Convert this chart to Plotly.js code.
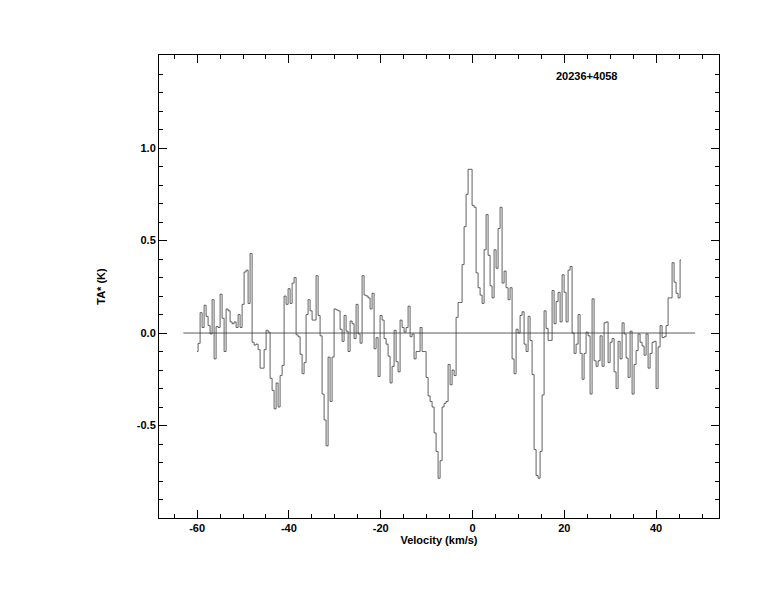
<!DOCTYPE html>
<html>
<head>
<meta charset="utf-8">
<script src="https://cdn.plot.ly/plotly-3.0.1.min.js"></script>
<style>
  html, body { margin: 0; padding: 0; background: #ffffff; }
  #chart { width: 774px; height: 612px; }
</style>
</head>
<body>
<div id="chart"></div>
<script>
// Spectrum channels: first channel velocity and channel width (km/s)
const firstVelocity = -60.0;
const channelWidth = 0.4357;

// Antenna temperature TA* (K) per channel
const antennaTemp = [
  -0.10, -0.056, 0.11, 0.03, 0.15, 0.09, 0.04, -0.005, 0.18, -0.14,
  0.035, 0.03, 0.21, 0.08, -0.10, 0.13, 0.12, 0.06, 0.05, 0.06,
  0.03, 0.10, 0.03, 0.155, 0.33, 0.34, 0.16, 0.43, -0.05, -0.065,
  -0.06, -0.09, -0.19, -0.19, -0.09, 0.015, 0.005, -0.245, -0.31, -0.41,
  -0.27, -0.40, -0.23, -0.175, 0.20, 0.155, 0.24, 0.16, 0.27, 0.30,
  -0.01, -0.02, -0.115, -0.22, -0.16, 0.10, 0.18, 0.12, 0.07, 0.07,
  0.31, 0.095, -0.015, -0.33, -0.47, -0.61, -0.13, -0.37, -0.13, 0.13,
  0.125, 0.12, 0.02, -0.045, 0.095, 0.01, -0.10, 0.065, 0.05, -0.03,
  0.155, -0.005, -0.055, 0.31, 0.205, 0.20, 0.19, 0.13, 0.215, -0.085,
  -0.025, -0.235, 0.095, 0.07, -0.03, -0.06, -0.125, -0.27, -0.18, 0.015,
  -0.155, -0.21, 0.07, 0.03, 0.005, 0.03, 0.145, -0.02, -0.005, -0.14,
  -0.10, -0.10, 0.03, -0.10, -0.10, -0.24, -0.34, -0.37, -0.40, -0.54,
  -0.64, -0.785, -0.69, -0.40, -0.38, -0.37, -0.17, -0.28, -0.20, -0.23,
  0.085, 0.165, 0.165, 0.37, 0.575, 0.75, 0.885, 0.885, 0.69, 0.68,
  0.325, 0.245, 0.205, 0.16, 0.45, 0.64, 0.42, 0.255, 0.19, 0.45,
  0.35, 0.565, 0.68, 0.27, 0.335, 0.245, 0.18, 0.245, -0.14, -0.22,
  0.02, 0.00, 0.095, 0.115, -0.06, -0.10, 0.09, -0.04, -0.225, -0.63,
  -0.77, -0.785, -0.64, -0.335, 0.12, 0.025, -0.04, -0.04, 0.23, 0.05,
  0.17, 0.22, 0.06, 0.315, 0.22, 0.06, 0.34, 0.36, 0.00, -0.11,
  -0.06, 0.10, -0.11, -0.25, -0.11, 0.005, -0.015, -0.33, 0.185, -0.15,
  -0.18, -0.15, -0.015, -0.18, 0.055, 0.06, -0.16, -0.05, -0.03, -0.21,
  -0.30, -0.045, -0.14, 0.055, -0.005, -0.135, -0.24, 0.01, -0.33, -0.17,
  -0.095, -0.005, -0.05, -0.07, -0.12, -0.005, -0.19, -0.11, -0.05, -0.045,
  -0.30, -0.075, 0.04, -0.025, -0.02, 0.04, 0.19, 0.19, 0.38, 0.275,
  0.215, 0.19, 0.395
];

// Baseline (zero level) extent
const baselineVelocity = [-63.0, 48.5];
const baselineTemp = [0, 0];

// Tick values / labels
const xTickVals = [-60, -40, -20, 0, 20, 40];
const xTickText = ['-60', '-40', '-20', '0', '20', '40'];
const yTickVals = [-0.5, 0.0, 0.5, 1.0];
const yTickText = ['-0.5', '0.0', '0.5', '1.0'];

const sourceName = '20236+4058';
const xTitle = 'Velocity (km/s)';
const yTitle = 'TA* (K)';

const boldFont = { family: 'Liberation Sans, Arial, Helvetica, sans-serif', size: 11, color: '#000000', weight: 'bold' };

const traces = [
  {
    type: 'scatter', mode: 'lines',
    x: baselineVelocity, y: baselineTemp,
    line: { color: '#333333', width: 0.8 },
    hoverinfo: 'skip', showlegend: false
  },
  {
    type: 'scatter', mode: 'lines',
    x0: firstVelocity, dx: channelWidth, y: antennaTemp,
    line: { color: '#3a3a3a', width: 0.8, shape: 'hvh' },
    showlegend: false
  }
];

const axisCommon = {
  showline: true, linecolor: '#000000', linewidth: 1, mirror: 'ticks',
  ticks: 'inside', ticklen: 8, tickwidth: 1, tickcolor: '#000000',
  showgrid: false, zeroline: false,
  tickfont: boldFont
};

const layout = {
  width: 774, height: 612,
  margin: { l: 159, r: 55, t: 55, b: 94, pad: 0 },
  paper_bgcolor: '#ffffff', plot_bgcolor: '#ffffff',
  showlegend: false,
  xaxis: Object.assign({}, axisCommon, {
    range: [-68.3, 53.7],
    tickmode: 'array', tickvals: xTickVals, ticktext: xTickText,
    minor: { dtick: 5, tick0: 0, ticklen: 4, tickcolor: '#000000', ticks: 'inside', showgrid: false },
    title: { text: xTitle, font: boldFont, standoff: 0 }
  }),
  yaxis: Object.assign({}, axisCommon, {
    range: [-1.0, 1.503],
    tickmode: 'array', tickvals: yTickVals, ticktext: yTickText,
    minor: { dtick: 0.1, tick0: 0, ticklen: 4, tickcolor: '#000000', ticks: 'inside', showgrid: false },
    title: { text: yTitle, font: boldFont, standoff: 28 }
  }),
  annotations: [
    {
      text: sourceName, xref: 'paper', yref: 'paper',
      x: 0.764, y: 0.955, xanchor: 'center', yanchor: 'middle',
      showarrow: false, font: boldFont
    }
  ]
};

Plotly.newPlot('chart', traces, layout, { staticPlot: true, displayModeBar: false });
</script>
</body>
</html>
